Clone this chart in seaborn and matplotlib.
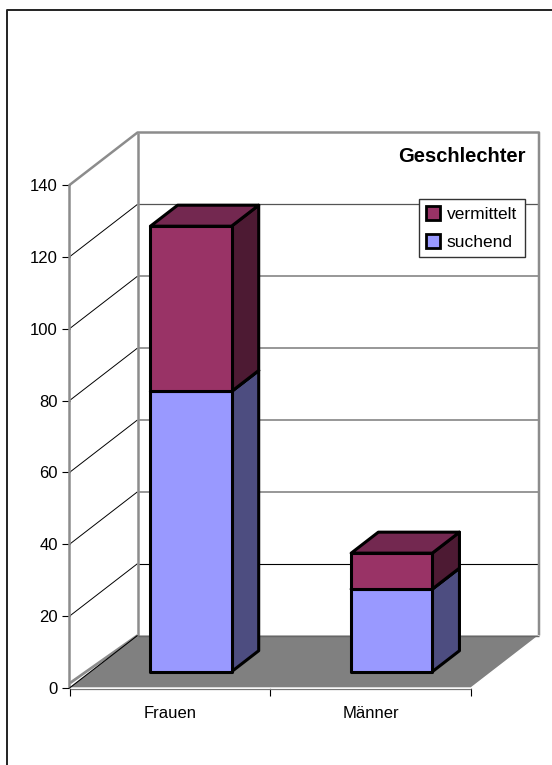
import matplotlib
matplotlib.use("Agg")
import matplotlib.pyplot as plt
import seaborn as sns
import numpy as np
from matplotlib.lines import Line2D
from matplotlib.patches import Polygon, Patch, Rectangle
from matplotlib.transforms import Affine2D

# Values
categories = ["Frauen", "Männer"]
suchend = [78, 46 - 23]
suchend = [78, 23]
vermittelt = [46, 10]
y_ticks = [0, 20, 40, 60, 80, 100, 120, 140]
chart_title = "Geschlechter"

# Colours of the bar faces: front, side, top
BLUE = ("#9999FF", "#4D4D80", "#73739F")
RED = ("#993366", "#4D1A33", "#732850")
WALL = "#8C8C8C"
FLOOR = "#808080"

sns.set_theme(style="white")
plt.rcParams["font.family"] = ["Liberation Sans", "DejaVu Sans"]

W, H = 552, 765
fig = plt.figure(figsize=(W / 100, H / 100), dpi=100, facecolor="white")
ax = fig.add_axes([69.5 / W, (H - 688) / H, 401.5 / W, 503 / H])
ax.set_facecolor("none")

# Oblique projection: depth 1 reaches the back wall
DEPTH_X = 68 / 200.75       # category units
DEPTH_Y = 52.5 / (503 / 140)  # value units
BAR_FRONT, BAR_BACK = 0.31, 0.71
BAR_WIDTH = 0.404
XMIN, XMAX = -0.5, 1.5


def project(x, y, depth):
    return x + depth * DEPTH_X, y + depth * DEPTH_Y


def line(points, color, lw, z=1.0):
    xs, ys = zip(*points)
    ax.plot(xs, ys, color=color, lw=lw, clip_on=False, zorder=z,
            solid_capstyle="butt")


# Floor with its pale outer rim
floor = [project(XMIN, 0, 0), project(XMAX, 0, 0),
         project(XMAX, 0, 1), project(XMIN, 0, 1)]
ax.add_patch(Polygon(floor, closed=True, fc=FLOOR, ec="none",
                     clip_on=False, zorder=1.2))
line([project(XMIN, 0, 0), project(XMAX, 0, 0), project(XMAX, 0, 1)],
     "white", 1.0, 1.3)
line([(XMIN, -0.3), (XMAX, -0.3)], "#777777", 0.9, 1.25)

# Gridlines run across the side wall and along the back wall
grid_style = {20: ("black", 0.8), 120: ("#555555", 0.9)}
for v in y_ticks[1:-1]:
    line([project(XMIN, v, 0), project(XMIN, v, 1)], "black", 0.7, 1.1)
    color, lw = grid_style.get(v, ("#7A7A7A", 1.1))
    line([project(XMIN, v, 1), project(XMAX, v, 1)], color, lw, 1.1)

# Wall frame
line([project(XMIN, 0, 0), project(XMIN, 140, 0), project(XMIN, 140, 1),
      project(XMAX, 140, 1), project(XMAX, 0, 1)], WALL, 1.8, 1.15)
line([project(XMIN, 140, 1), project(XMIN, 0, 1)], WALL, 1.8, 1.15)
line([project(XMIN, 0, 1), project(XMAX, 0, 1)], "#666666", 1.0, 1.3)
line([(XMIN + 0.003, 1.4), project(XMIN, 0, 1)], WALL, 2.0, 1.22)
line([project(XMIN, 0, 0), project(XMIN, 0, 1)], "black", 0.8, 1.3)


def bar_depth_faces(i, base, height, colors):
    left, right = i - BAR_WIDTH / 2, i + BAR_WIDTH / 2
    top = base + height
    side = [project(right, base, BAR_FRONT), project(right, base, BAR_BACK),
            project(right, top, BAR_BACK), project(right, top, BAR_FRONT)]
    lid = [project(left, top, BAR_FRONT), project(left, top, BAR_BACK),
           project(right, top, BAR_BACK), project(right, top, BAR_FRONT)]
    ax.add_patch(Polygon(side, closed=True, fc=colors[1], ec="black", lw=2.2,
                         joinstyle="round", clip_on=False, zorder=2))
    ax.add_patch(Polygon(lid, closed=True, fc=colors[2], ec="black", lw=2.2,
                         joinstyle="round", clip_on=False, zorder=2))


for i, (s, v) in enumerate(zip(suchend, vermittelt)):
    bar_depth_faces(i, 0, s, BLUE)
    bar_depth_faces(i, s, v, RED)

# Front faces, moved forward-to-back along the projection
before = len(ax.patches)
sns.barplot(x=categories, y=suchend, color=BLUE[0], saturation=1,
            width=BAR_WIDTH, edgecolor="black", linewidth=2.2, ax=ax)
sns.barplot(x=categories, y=vermittelt, bottom=suchend, color=RED[0],
            saturation=1, width=BAR_WIDTH, edgecolor="black", linewidth=2.2,
            ax=ax)
shift = Affine2D().translate(BAR_FRONT * DEPTH_X, 0)
for patch in ax.patches[before:]:
    patch.set_clip_on(False)
    patch.set_zorder(3)
    patch.set_joinstyle("round")
    patch.set_transform(
        Affine2D().translate(BAR_FRONT * DEPTH_X, BAR_FRONT * DEPTH_Y) + ax.transData)

# Axes
ax.set_xlim(XMIN, XMAX)
ax.set_ylim(0, 140)
for spine in ax.spines.values():
    spine.set_visible(False)
ax.set_yticks(y_ticks)
ax.tick_params(axis="y", left=True, length=6, width=0.8, color="black",
               pad=2.5, labelsize=12, labelcolor="black")
ax.set_xticks([XMIN, 0.5, XMAX])
ax.set_xticklabels([])
ax.tick_params(axis="x", which="major", bottom=True, length=5.5, width=0.8,
               color="black")
ax.set_xticks([0, 1], minor=True)
ax.set_xticklabels(categories, minor=True)
ax.tick_params(axis="x", which="minor", bottom=False, length=0, pad=13,
               labelsize=12, labelcolor="black")
ax.grid(False)

# Title and legend
fig.text(526 / W, 1 - 157 / H, chart_title, ha="right", va="center",
         fontsize=14.5, fontweight="bold", color="black")
handles = [Patch(fc=RED[0], ec="black", lw=2.0, label="vermittelt"),
           Patch(fc=BLUE[0], ec="black", lw=2.0, label="suchend")]
legend = ax.legend(handles=handles, loc="upper left",
                   bbox_to_anchor=(418.5 / W, 1 - 199 / H),
                   bbox_transform=fig.transFigure, fontsize=12.5,
                   fancybox=False, frameon=True, framealpha=1,
                   edgecolor="#333333", facecolor="white",
                   borderaxespad=0, borderpad=0.42, labelspacing=0.72,
                   handlelength=0.8, handleheight=0.8, handletextpad=0.42)
legend.get_frame().set_linewidth(1.0)
legend.set_zorder(5)
for text in legend.get_texts():
    text.set_color("black")

# Chart area border, open towards the right and the bottom
fig.add_artist(Line2D([6.5 / W, 6.5 / W, 1], [0, 1 - 10 / H, 1 - 10 / H],
                      color="#222222", lw=1.4))

fig.savefig("out.png", dpi=100)
